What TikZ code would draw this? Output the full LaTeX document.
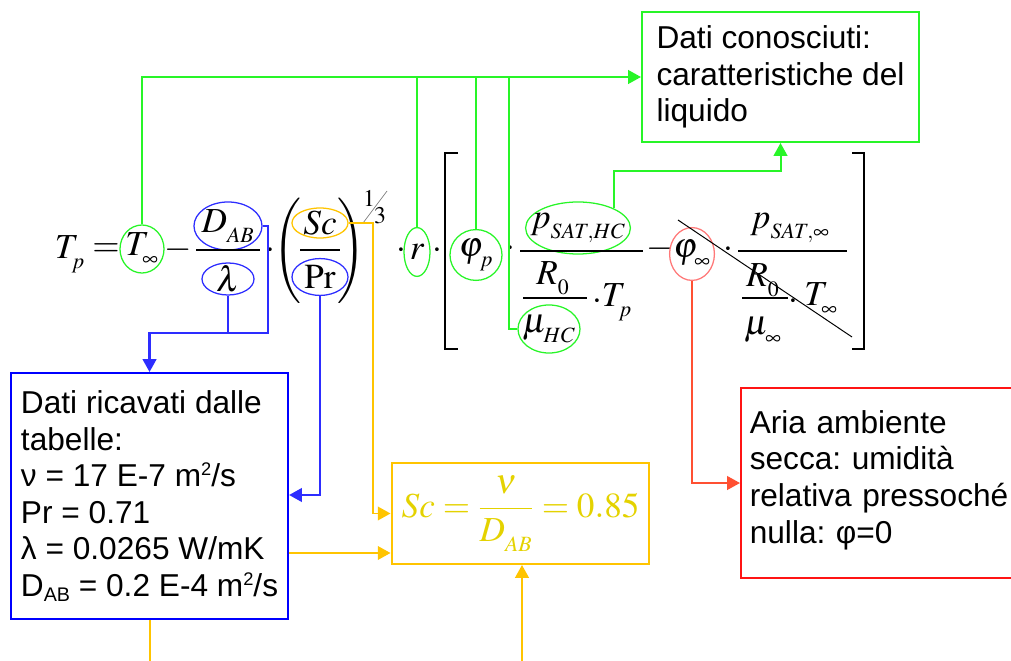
\documentclass[tikz,border=0pt]{standalone}
\usepackage{mathptmx}
\usepackage[no-math]{fontspec}
\newfontfamily\arial{Liberation Sans}
\usetikzlibrary{arrows.meta,shapes.geometric,calc}

\definecolor{lgreen}{RGB}{40,245,40}
\definecolor{lblue}{RGB}{45,45,255}
\definecolor{dblue}{RGB}{0,0,255}
\definecolor{lorange}{RGB}{255,196,0}
\definecolor{ltext}{RGB}{228,210,0}
\definecolor{lred}{RGB}{255,20,20}
\definecolor{rline}{RGB}{255,80,50}
\definecolor{lpink}{RGB}{255,120,120}

\DeclareMathSizes{25}{25}{15.5}{11}
\makeatletter
\newcommand\eqfont{\fontsize{25}{30}\selectfont\check@mathfonts
  \fontdimen16\textfont2=7pt \fontdimen17\textfont2=7pt }
\makeatother
\newcommand\expfont{\fontsize{17}{20}\selectfont}
\newcommand\boxfont{\arial\fontsize{22.5}{26}\selectfont\frenchspacing}
\newcommand\upsc[1]{\raisebox{8pt}{\fontsize{13}{13}\selectfont#1}}
\newcommand\dnsc[1]{\raisebox{-3.5pt}{\fontsize{14}{14}\selectfont#1}}

\begin{document}
\begin{tikzpicture}[x=0.025cm,y=-0.025cm,
    term/.style={inner sep=0pt,font=\eqfont},
    ring/.style={ellipse,draw,inner sep=0pt,line width=0.9pt},
    gring/.style={ring,draw=lgreen},
    bring/.style={ring,draw=lblue},
    yring/.style={ring,draw=lorange},
    rring/.style={ring,draw=lpink},
    fracbar/.style={line width=0.8pt},
    brk/.style={line width=1.1pt},
    headed/.style={-{Triangle[length=0.32cm,width=0.34cm]}},
    gwire/.style={lgreen,line width=1.4pt},
    bwire/.style={lblue,line width=1.5pt},
    ywire/.style={lorange,line width=1.4pt},
    rwire/.style={rline,line width=1.3pt},
    note/.style={draw,line width=1.4pt,align=left,inner xsep=0.25cm,font=\boxfont}]
  \useasboundingbox (0,0) rectangle (1011,661);

  % left part: T_p = T_inf - D_AB/lambda (Sc/Pr)^(1/3)
  \node[term] (Tp) at (70,254) {$T_p$};
  \node[term] at (106,250) {$=$};
  \node[gring,minimum width=1.1cm,minimum height=1.2cm,label={[term]center:{$T_\infty$}}] (Tinf) at (142,249) {};
  \node[term] at (178,250) {$-$};
  \node[bring,minimum width=1.7cm,minimum height=1.2cm,label={[term]center:{$D_{AB}$}}] (DAB) at (228,226) {};
  \draw[fracbar] (196,250) -- (260,250);
  \node[bring,minimum width=1.3cm,minimum height=0.8cm,label={[term]center:{$\lambda$}}] (lam) at (228,279) {};
  \node[term] at (270,251) {$\cdot$};
  \node[term] at (288,251) {$\left(\vrule height 1.1cm depth 1.1cm width 0pt\right.$};
  \node[yring,minimum width=1.4cm,minimum height=0.75cm,label={[term]center:{$Sc$}}] (Sc) at (320,223) {};
  \draw[fracbar] (300,250) -- (340,250);
  \node[bring,minimum width=1.4cm,minimum height=0.92cm,label={[term]center:{$\mathrm{Pr}$}}] (Pr) at (320,277) {};
  \node[term] at (351,251) {$\left.\vrule height 1.1cm depth 1.1cm width 0pt\right)$};
  \node[term,font=\expfont] at (369,199) {$1$};
  \node[term,font=\expfont] at (380,216) {$3$};
  \draw[gray,line width=0.5pt] (363,223) -- (387,191);

  % r [ ... ]
  \node[term] at (401,251) {$\cdot$};
  \node[gring,minimum width=0.65cm,minimum height=1.22cm,label={[term]center:{$r$}}] (r) at (417,252) {};
  \node[term] at (437,251) {$\cdot$};
  \draw[brk] (458,153) -| (445,349) -- (458,349);
  \node[gring,minimum width=1.3cm,minimum height=1.27cm,label={[term]center:{$\varphi_p$}}] (phip) at (476,255) {};
  \node[term] at (510,249) {$\cdot$};
  \node[gring,minimum width=2.62cm,minimum height=1.3cm,label={[term]center:{$p_{SAT,HC}$}}] (psat) at (578,228) {};
  \draw[fracbar] (520,251) -- (643,251);
  \node[term] at (553,278) {$R_0$};
  \draw[fracbar] (523,298) -- (587,298);
  \node[gring,minimum width=1.55cm,minimum height=1.2cm,label={[term]center:{$\mu_{HC}$}}] (muHC) at (549,329) {};
  \node[term] at (597,302) {$\cdot$};
  \node[term] at (617,302) {$T_p$};
  \node[term] at (660,249) {$-$};
  \node[rring,minimum width=1.12cm,minimum height=1.32cm,label={[term]center:{$\varphi_\infty$}}] (phiinf) at (692,254) {};
  \node[term] at (728,250) {$\cdot$};
  \node[term] at (790,228) {$p_{SAT,\infty}$};
  \draw[fracbar] (738,251) -- (847,251);
  \node[term] at (763,280) {$R_0$};
  \draw[fracbar] (742,298) -- (788,298);
  \node[term] at (763,331) {$\mu_\infty$};
  \node[term] at (793,302) {$\cdot$};
  \node[term] at (821,299) {$T_\infty$};
  \draw[line width=0.7pt] (678,220) -- (852,337);
  \draw[brk] (852,153) -| (864,349) -- (852,349);

  % boxes
  \node[note,draw=lgreen,anchor=north west,minimum width=6.925cm,minimum height=3.25cm] (known) at (641,11)
    {Dati conosciuti:\\caratteristiche del\\liquido};
  \node[note,draw=dblue,anchor=north west,minimum width=6.925cm,minimum height=6.15cm] (tables) at (10,372)
    {Dati ricavati dalle\\tabelle:\\ν = 17 E-7 m\upsc{2}/s\\Pr = 0.71\\λ = 0.0265 W/mK\\D\dnsc{AB} = 0.2 E-4 m\upsc{2}/s};
  \node[note,draw=lorange,text=ltext,font=\eqfont,align=center,minimum width=6.175cm,minimum height=2.525cm] (schmidt) at (520.5,513.5)
    {$\displaystyle Sc=\frac{\nu}{D_{AB}}=0.85$};
  \node[note,draw=lred,anchor=north west,minimum height=4.75cm,text width=7.6cm,inner xsep=0.22cm] (aria) at (740,387)
    {Aria ambiente\\secca: umidità\\relativa pressoché\\nulla: φ=0\\[-0.6cm]\mbox{}};

  % green: known data
  \draw[gwire,headed] (Tinf.north) |- (known.west);
  \draw[gwire] (r.north) -- (r.north |- known.west);
  \draw[gwire] (phip.north) -- (phip.north |- known.west);
  \draw[gwire] (muHC.west) -- ++(-8,0) coordinate (muup) -- (muup |- known.west);
  \draw[gwire,headed] (psat.29) -- ++(0,-37) -| (known.south);

  % blue: from tables
  \coordinate (bjoin) at (228,333);
  \draw[bwire,headed] (DAB.east) -- ++(5,0) |- (bjoin) -| (tables.north);
  \draw[bwire] (lam.south) -- (bjoin);
  \draw[bwire,headed] (Pr.south) |- ($(tables.north east)+(0,123)$);

  % yellow: Schmidt number
  \draw[ywire,headed] (Sc.east) -- ++(24,0) |- (schmidt.west);
  \coordinate (ylow) at ($(schmidt.south west)+(0,-12)$);
  \draw[ywire,headed] (tables.east |- ylow) -- (ylow);
  \coordinate (ybot) at (522,661);
  \draw[ywire,headed] (ybot) -- (ybot |- schmidt.south);
  \draw[ywire] (tables.south) -- ++(0,43);

  % red: dry air
  \draw[rwire,headed] (phiinf.south) |- (aria.west);
\end{tikzpicture}
\end{document}
